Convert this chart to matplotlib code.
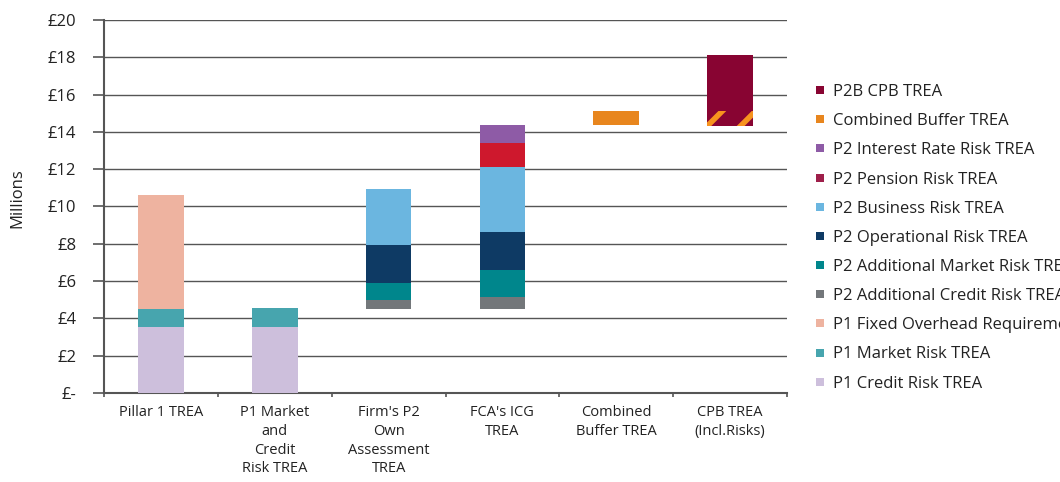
import matplotlib.pyplot as plt
import numpy as np
from matplotlib.lines import Line2D

plt.rcParams['font.family'] = ['Open Sans', 'DejaVu Sans']
plt.rcParams['hatch.linewidth'] = 4

categories = ["Pillar 1 TREA", "P1 Market\nand\nCredit\nRisk TREA",
              "Firm's P2\nOwn\nAssessment\nTREA", "FCA's ICG\nTREA",
              "Combined\nBuffer TREA", "CPB TREA\n(Incl.Risks)"]

# invisible base for the floating bars (millions)
base = [0, 0, 4.52, 4.52, 14.39, 14.33]

p1_credit = [3.54, 3.54, 0, 0, 0, 0]
p1_market = [0.96, 1.02, 0, 0, 0, 0]
p1_fixed = [6.12, 0, 0, 0, 0, 0]
p2_add_credit = [0, 0, 0.47, 0.61, 0, 0]
p2_add_market = [0, 0, 0.92, 1.48, 0, 0]
p2_operational = [0, 0, 2.03, 2.02, 0, 0]
p2_business = [0, 0, 3.01, 3.49, 0, 0]
p2_pension = [0, 0, 0, 1.27, 0, 0]
p2_interest = [0, 0, 0, 0.98, 0, 0]
combined_buffer = [0, 0, 0, 0, 0.73, 0.79]
p2b_cpb = [0, 0, 0, 0, 0, 3.0]

series = [
    ("P1 Credit Risk TREA", p1_credit, "#cdbfdc", "#cdbfdc"),
    ("P1 Market Risk TREA", p1_market, "#47a5ae", "#47a5ae"),
    ("P1 Fixed Overhead Requirement TREA", p1_fixed, "#eeb3a0", "#eeb3a0"),
    ("P2 Additional Credit Risk TREA", p2_add_credit, "#73777a", "#73777a"),
    ("P2 Additional Market Risk TREA", p2_add_market, "#00868c", "#00868c"),
    ("P2 Operational Risk TREA", p2_operational, "#0e3a64", "#0e3a64"),
    ("P2 Business Risk TREA", p2_business, "#6bb6e0", "#6bb6e0"),
    ("P2 Pension Risk TREA", p2_pension, "#ce182d", "#9e1f4a"),
    ("P2 Interest Rate Risk TREA", p2_interest, "#8e5ba6", "#8e5ba6"),
    ("Combined Buffer TREA", combined_buffer, "#e8861e", "#e8861e"),
    ("P2B CPB TREA", p2b_cpb, "#880432", "#880432"),
]

fig = plt.figure(figsize=(10.6, 4.82), dpi=100)
ax = fig.add_axes([104 / 1060, 1 - 393 / 482, (787 - 104) / 1060, (393 - 20) / 482])

x = np.arange(len(categories))
bottom = np.array(base, dtype=float)
handles = []
for name, vals, color, leg_color in series:
    vals = np.array(vals, dtype=float)
    bars = ax.bar(x, vals, 0.40, bottom=bottom, color=color, linewidth=0, zorder=3)
    if name == "Combined Buffer TREA":
        # hatched buffer segment under the CPB bar
        bars[5].set_facecolor("#880432")
        bars[5].set_edgecolor("#f7931e")
        bars[5].set_hatch("/")
    bottom = bottom + vals
    handles.append(Line2D([], [], marker='s', linestyle='none', markersize=5.5,
                          markerfacecolor=leg_color, markeredgewidth=0, label=name))

ax.set_xlim(-0.5, 5.5)
ax.set_ylim(0, 20)
ax.set_yticks(np.arange(0, 21, 2))
ax.set_yticklabels(["£-"] + [f"£{v}" for v in range(2, 21, 2)])
ax.set_xticks(x)
ax.set_xticklabels(categories, linespacing=1.32)
ax.set_xticks(np.arange(-0.5, 6, 1), minor=True)

ax.grid(axis='y', color='#555555', linewidth=1.0, zorder=0)
for s in ['top', 'right']:
    ax.spines[s].set_visible(False)
for s in ['left', 'bottom']:
    ax.spines[s].set_color('#555555')
    ax.spines[s].set_linewidth(1.5)

ax.tick_params(axis='y', length=8, width=1.2, color='#555555', pad=12,
               labelsize=12, labelcolor='#222222')
ax.tick_params(axis='x', which='major', length=0, pad=9, labelsize=10.5,
               labelcolor='#222222')
ax.tick_params(axis='x', which='minor', length=3, width=1.2, color='#555555')

fig.text(17 / 1060, 1 - 198 / 482, "Millions", rotation=90, ha='center', va='center',
         fontsize=12, color='#222222')

fig.legend(handles=handles[::-1], loc='upper left', bbox_to_anchor=(813 / 1060, 1 - 84 / 482),
           frameon=False, fontsize=12, handlelength=0.8, handletextpad=0.4,
           labelspacing=0.79, borderaxespad=0, borderpad=0, labelcolor='#222222')

fig.savefig("out.png", dpi=100)
